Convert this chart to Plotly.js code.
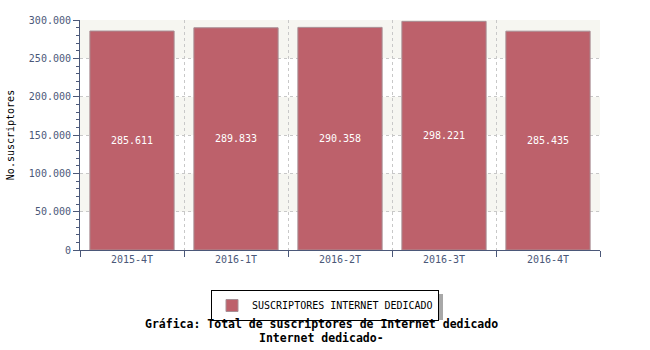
<!DOCTYPE html>
<html>
<head>
<meta charset="utf-8">
<script src="https://cdn.plot.ly/plotly-3.0.1.min.js"></script>
<style>html,body{margin:0;padding:0;background:#fff;}#chart{width:650px;height:350px;}</style>
</head>
<body>
<div id="chart"></div>
<script>
const categories = ["2015-4T", "2016-1T", "2016-2T", "2016-3T", "2016-4T"];
const suscriptores = [285611, 289833, 290358, 298221, 285435];
const valueLabels = ["285.611", "289.833", "290.358", "298.221", "285.435"];
const seriesName = "SUSCRIPTORES INTERNET DEDICADO";
const bandStarts = [0, 50000, 100000, 150000, 200000, 250000];

const FONT = "DejaVu Sans Mono, monospace";
const AXIS = "#4b5879";

const shapes = bandStarts.map((b, i) => ({
  type: "rect", xref: "paper", yref: "y", x0: 0, x1: 1, y0: b, y1: b + 50000,
  fillcolor: i % 2 === 1 ? "#f6f6f1" : "#ffffff", line: {width: 0}, layer: "below"
}));
// legend shadow
shapes.push({type: "rect", xref: "paper", yref: "paper",
  x0: (215 - 80) / 520, x1: (443 - 80) / 520, y0: (250 - 294) / 230, y1: (250 - 320) / 230,
  fillcolor: "#a8a8a8", line: {width: 0}, layer: "above"});

const trace = {
  type: "bar", x: categories, y: suscriptores, name: seriesName,
  text: valueLabels, textposition: "inside", insidetextanchor: "middle",
  textfont: {family: FONT, size: 10, color: "#ffffff"},
  marker: {color: "#bd616b", line: {color: "#a88f95", width: 1}},
  hoverinfo: "x+y"
};

const layout = {
  width: 650, height: 350,
  margin: {l: 80, r: 50, t: 20, b: 100},
  separators: ",.",
  paper_bgcolor: "#ffffff", plot_bgcolor: "#ffffff",
  bargap: 0.19,
  font: {family: FONT, size: 10, color: AXIS},
  showlegend: true,
  legend: {
    orientation: "h", xref: "paper", yref: "paper",
    x: (211 - 80) / 520, y: (250 - 290) / 230, xanchor: "left", yanchor: "top",
    bgcolor: "#ffffff", bordercolor: "#000000", borderwidth: 1,
    font: {family: FONT, size: 10, color: "#000000"}
  },
  xaxis: {
    type: "category", tickson: "boundaries", ticks: "outside", ticklen: 6, tickcolor: AXIS,
    showline: true, linecolor: AXIS, linewidth: 1,
    showgrid: true, gridcolor: "#c8c8c8", griddash: "3px,3px",
    tickfont: {family: FONT, size: 10, color: AXIS}
  },
  yaxis: {
    range: [0, 300000], dtick: 50000, tickformat: ",.0f",
    ticks: "outside", ticklen: 6, tickcolor: AXIS,
    showline: true, linecolor: AXIS, linewidth: 1,
    showgrid: true, gridcolor: "#c8c8c8", griddash: "3px,3px", zeroline: false,
    minor: {dtick: 10000, ticks: "outside", ticklen: 3, tickcolor: AXIS, showgrid: false},
    tickfont: {family: FONT, size: 10, color: AXIS},
    title: {text: "No.suscriptores", font: {family: FONT, size: 10, color: "#000000"}, standoff: 12}
  },
  shapes: shapes,
  annotations: [
    {xref: "paper", yref: "paper", x: (321 - 80) / 520, y: (250 - 324) / 230, xanchor: "center", yanchor: "middle",
     text: "<b>Gráfica: Total de suscriptores de Internet dedicado</b>", showarrow: false,
     font: {family: FONT, size: 11.5, color: "#000000"}},
    {xref: "paper", yref: "paper", x: (321 - 80) / 520, y: (250 - 338) / 230, xanchor: "center", yanchor: "middle",
     text: "<b>Internet dedicado-</b>", showarrow: false,
     font: {family: FONT, size: 11.5, color: "#000000"}}
  ]
};

Plotly.newPlot("chart", [trace], layout, {displayModeBar: false, responsive: false});
</script>
</body>
</html>
